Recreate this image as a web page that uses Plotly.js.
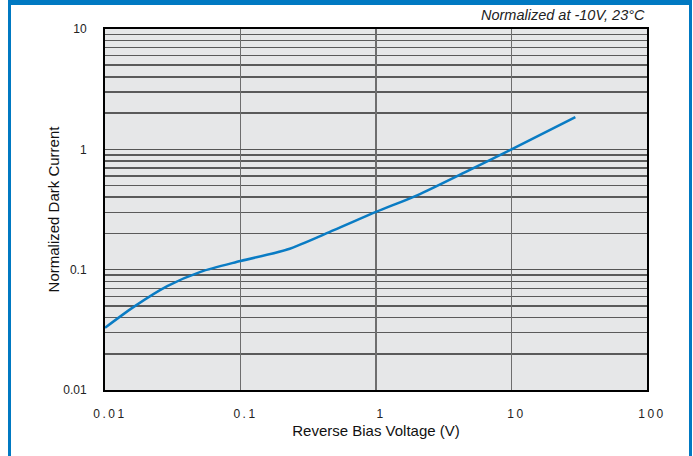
<!DOCTYPE html>
<html>
<head>
<meta charset="utf-8">
<script src="https://cdn.plot.ly/plotly-3.0.1.min.js"></script>
<style>
  html, body { margin: 0; padding: 0; background: #fff; }
  #wrap { position: relative; width: 693px; height: 456px; overflow: hidden; }
  #chart { position: absolute; left: 0; top: 0; width: 693px; height: 456px; }
  #frame { position: absolute; left: 8px; top: 0; width: 678px; height: 470px;
           border-left: 3px solid #0079c2; border-right: 3px solid #0079c2; border-top: 5px solid #0079c2;
           pointer-events: none; }
  .xaxislayer-above .xtick text { letter-spacing: 2.5px; }
</style>
</head>
<body>
<div id="wrap">
  <div id="chart"></div>
  <div id="frame"></div>
</div>
<script>
// Reverse bias voltage (V) and normalized dark current
const voltage = [0.01, 0.0163, 0.0288, 0.0507, 0.1, 0.221, 0.488, 1.0, 2.01, 4.97, 10, 29.6];
const darkCurrent = [0.0329, 0.0491, 0.073, 0.0959, 0.118, 0.147, 0.213, 0.302, 0.415, 0.679, 1.0, 1.85];

const xTickVals = [0.01, 0.1, 1, 10, 100];
const xTickText = ["0.01", "0.1", "1", "10", "100"];
const yTickVals = [0.01, 0.1, 1, 10];
const yTickText = ["0.01", "0.1", "1", "10"];

const xTitle = "Reverse Bias Voltage (V)";
const yTitle = "Normalized Dark Current";
const note = "Normalized at -10V, 23°C";

// minor gridline positions (2..9 within each decade)
const yMinor = [];
[0.01, 0.1, 1].forEach(d => { for (let k = 2; k <= 9; k++) yMinor.push(+(d * k).toPrecision(3)); });

const font = "Liberation Sans, Arial, Helvetica, sans-serif";

Plotly.newPlot("chart", [{
  x: voltage, y: darkCurrent, type: "scatter", mode: "lines",
  line: { color: "#0a7cc4", width: 2.5, shape: "spline", smoothing: 0.8 },
  hoverinfo: "skip"
}], {
  width: 693, height: 456,
  margin: { l: 105, r: 46, t: 29, b: 66 },
  paper_bgcolor: "#ffffff",
  plot_bgcolor: "#e6e7e8",
  showlegend: false,
  xaxis: {
    type: "log", range: [-2, 2],
    tickmode: "array", tickvals: xTickVals, ticktext: xTickText,
    ticks: "", ticklabelstandoff: 12, ticklabelshift: 5,
    tickfont: { family: font, size: 12, color: "#222" },
    showgrid: true, gridcolor: "#6e6e6e", gridwidth: 1.5,
    showline: true, linecolor: "#000", linewidth: 2, mirror: true,
    zeroline: false,
    title: { text: xTitle, font: { family: font, size: 15, color: "#111" }, standoff: 5 }
  },
  yaxis: {
    type: "log", range: [-2, 1],
    tickmode: "array", tickvals: yTickVals, ticktext: yTickText,
    ticks: "", ticklabelstandoff: 14,
    tickfont: { family: font, size: 12, color: "#222" },
    showgrid: true, gridcolor: "#555", gridwidth: 1.5,
    minor: { tickmode: "array", tickvals: yMinor, showgrid: true, gridcolor: "#5a5a5a", gridwidth: 1.5, ticks: "" },
    showline: true, linecolor: "#000", linewidth: 2, mirror: true,
    zeroline: false,
    title: { text: yTitle, font: { family: font, size: 15, color: "#111" }, standoff: 0 }
  },
  annotations: [{
    xref: "paper", yref: "paper", x: 1, y: 1.04, xanchor: "right", yanchor: "middle",
    text: "<i>" + note + "</i>", showarrow: false,
    font: { family: font, size: 14.5, color: "#222" }
  }]
}, { displayModeBar: false, staticPlot: true });
</script>
</body>
</html>
